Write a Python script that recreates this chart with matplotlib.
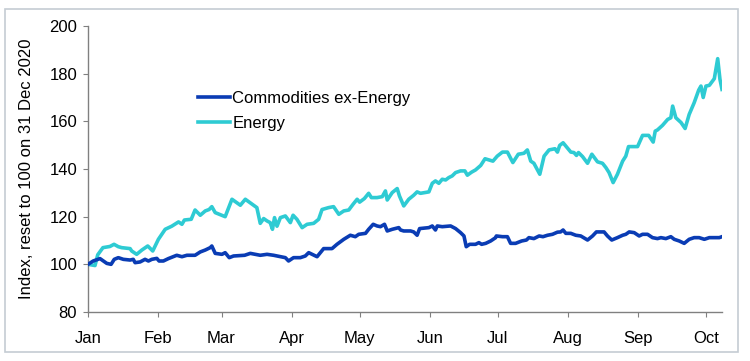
import matplotlib
matplotlib.use("Agg")
import matplotlib.pyplot as plt
import matplotlib.dates as mdates
from matplotlib.patches import Rectangle
import pandas as pd

plt.rcParams['font.family'] = ['Liberation Sans', 'DejaVu Sans']

start_date = "2021-01-01"
end_day = 280.1

# Energy: (days since 1 Jan 2021, index)
energy_days = [0, 3.1, 4.3, 6.6, 9.7, 11.5, 13.4, 14.9, 18.6, 19.3, 21.5, 23.8, 26.4, 28.6,
               31.1, 34.1, 37.0, 40.0, 41.5, 42.6, 45.6, 47.3, 49.6, 51.8, 53.5, 54.7, 56.2,
               60.6, 63.6, 67.3, 69.5, 73.1, 74.6, 76.1, 77.6, 79.1, 80.5, 81.5, 82.4, 83.5,
               85.0, 87.2, 89.4, 90.6, 92.3, 94.6, 96.8, 99.7, 101.9, 103.4, 106.3, 108.5,
               110.8, 113.0, 115.2, 117.1, 118.9, 120.0, 122.1, 124.0, 125.2, 127.7, 130.0,
               131.4, 132.2, 134.4, 136.6, 137.6, 139.5, 141.7, 143.9, 145.4, 146.9, 150.6,
               152.1, 153.5, 155.0, 156.5, 158.0, 159.4, 160.9, 162.4, 164.6, 166.5, 167.6,
               169.5, 171.2, 173.5, 175.4, 177.1, 178.9, 180.8, 183.1, 185.3, 187.7, 190.1,
               192.6, 194.1, 195.6, 197.0, 199.6, 201.5, 203.7, 206.3, 207.4, 208.4, 209.9,
               213.3, 214.7, 215.8, 216.7, 218.5, 220.7, 222.6, 225.1, 227.3, 228.8, 230.2,
               232.0, 233.9, 236.2, 237.6, 238.8, 242.8, 245.0, 247.7, 249.7, 250.6, 251.6,
               253.8, 256.1, 257.5, 258.3, 259.7, 262.0, 263.8, 265.6, 267.8, 269.8, 270.8,
               271.8, 273.0, 274.5, 276.7, 278.2, 279.2, 280.1]
energy_vals = [100, 99.5, 104, 107, 107.5, 108.4, 107.4, 107, 106.6, 105.6, 104.2, 106, 107.7, 105.6,
               110.5, 114.7, 116, 117.8, 116.8, 118.6, 118.9, 122.8, 120.6, 122.4, 123, 124.2, 121.7,
               120, 127.3, 124.8, 127.3, 124.8, 123.8, 117.2, 119.2, 118.2, 117.5, 114.7, 119.6, 116,
               119.6, 120.3, 117.5, 120.6, 118.9, 115.4, 116.8, 117.2, 118.9, 123, 123.8, 124.2,
               121, 122.4, 122.8, 125.2, 127.3, 126.1, 127.6, 129.8, 128, 128, 128.4,
               130.8, 127, 130.1, 131.8, 128.7, 124.5, 127.3, 129, 130.4, 129.8, 130.4,
               134, 135, 134, 135.7, 135.4, 136.4, 137.1, 138.5, 139.2, 139.2, 137.4,
               138.7, 139.6, 141.5, 144.3, 143.8, 143.3, 145.4, 147.1, 147.1, 142.7, 146.2,
               146.6, 148, 143.3, 142.4, 137.8, 145.4, 148, 148.5, 147.1, 149.9, 151,
               147.1, 146.9, 145.7, 146.9, 145.2, 142.4, 146.2, 143, 142.4, 140.6, 138.5,
               134.3, 137.8, 143.3, 145.4, 149.4, 149.4, 154.1, 154.1, 151.3, 155.9, 156.4,
               158.3, 160.8, 161.5, 166.4, 161.5, 159.5, 157, 162.9, 167.8, 173.1, 174.8,
               170, 174.8, 175.1, 177.9, 186.3, 177.6, 173.4]

# Commodities ex-Energy
comm_days = [0, 2.3, 5.3, 6.8, 8.3, 10.2, 11.6, 13.4, 15.6, 18.6, 20.0, 20.8, 23.0, 25.2, 26.7,
             28.2, 30.4, 31.4, 33.3, 35.5, 39.2, 41.5, 43.7, 47.3, 49.6, 51.8, 54.0, 54.7, 56.2,
             59.2, 60.6, 62.4, 64.3, 69.2, 71.7, 76.1, 79.1, 82.0, 85.0, 87.2, 88.6, 90.8, 93.8,
             96.0, 97.5, 99.0, 101.2, 104.1, 107.8, 110.0, 113.0, 115.9, 118.1, 119.6, 122.6,
             124.0, 126.0, 127.7, 129.2, 131.0, 132.2, 134.4, 137.3, 138.1, 139.5, 142.5, 143.9,
             145.4, 146.5, 150.6, 152.1, 153.5, 154.3, 156.5, 160.2, 162.4, 164.6, 166.1, 167.1,
             168.6, 171.2, 172.7, 173.9, 175.7, 177.9, 180.1, 180.4, 183.1, 185.3, 186.7, 188.9,
             191.6, 193.7, 194.8, 197.0, 199.3, 201.0, 203.0, 205.2, 207.4, 208.8, 209.9, 211.1,
             213.3, 215.5, 217.7, 220.7, 222.9, 224.6, 228.0, 229.5, 231.4, 233.9, 236.2, 237.6,
             239.1, 241.3, 243.5, 245.0, 247.2, 249.4, 251.6, 253.1, 255.3, 257.5, 259.0, 261.2,
             263.4, 265.6, 267.8, 270.0, 272.3, 274.5, 276.7, 278.9, 280.1]
comm_vals = [100, 101.4, 102.4, 101.4, 100.4, 100, 102.1, 102.8, 102.1, 101.8, 102.1, 100.7, 101, 102.1, 101.4,
             102.1, 102.5, 101.4, 101.4, 102.4, 103.8, 103.2, 103.8, 103.8, 105.2, 106, 107, 107.7, 104.6,
             104.2, 104.9, 102.8, 103.5, 103.8, 104.6, 103.8, 104.2, 103.8, 103.2, 102.8, 101.4, 102.8, 102.8,
             103.5, 104.9, 104.2, 103.2, 106.6, 106.6, 108.4, 110.5, 112.2, 111.6, 112.6, 113,
             114.7, 116.8, 116.1, 115.8, 116.8, 114, 114.7, 115.4, 114.4, 114, 114, 113.6,
             112.2, 115, 115.4, 116.1, 114.4, 116.1, 115.8, 116.1, 115, 113.3, 111.9, 107.4,
             108.4, 108.4, 109.1, 108.4, 108.8, 109.8, 111.2, 111.9, 111.6, 111.6, 108.8, 108.8,
             109.8, 110.2, 111.2, 110.8, 111.9, 111.6, 112.2, 112.6, 113.5, 113.6, 114.4, 113,
             113, 112.2, 111.9, 110.2, 111.9, 113.6, 113.6, 111.9, 110.2, 111.2, 112.2, 112.6,
             113.6, 113.3, 111.9, 112.6, 112.6, 111.2, 110.8, 111.2, 110.8, 111.6, 110.5, 109.8,
             108.8, 110.5, 111.2, 111.2, 110.5, 111.2, 111.2, 111.2, 111.6]

series_labels = ["Commodities ex-Energy", "Energy"]
ylabel = "Index, reset to 100 on 31 Dec 2020"
yticks = [80, 100, 120, 140, 160, 180, 200]

t0 = pd.Timestamp(start_date)
to_dates = lambda d: t0 + pd.to_timedelta(d, unit="D")

FS = 12
W, H = 750, 361
fig = plt.figure(figsize=(W / 100, H / 100), dpi=100)
ax = fig.add_axes([88 / W, 1 - 312 / H, (722 - 88) / W, (312 - 26) / H])

c_comm = "#0a3cb4"
c_en = "#2ecbd3"
ax.plot(to_dates(comm_days), comm_vals, color=c_comm, lw=2.6, label=series_labels[0], zorder=3)
ax.plot(to_dates(energy_days), energy_vals, color=c_en, lw=2.6, label=series_labels[1], zorder=2)

ax.set_xlim(t0, to_dates(end_day))
ax.set_ylim(80, 200)
ax.set_yticks(yticks)
ax.xaxis.set_major_locator(mdates.MonthLocator())
ax.xaxis.set_major_formatter(mdates.DateFormatter("%b"))

for s in ["top", "right"]:
    ax.spines[s].set_visible(False)
for s in ["left", "bottom"]:
    ax.spines[s].set_color("#808080")
    ax.spines[s].set_linewidth(1.0)
ax.tick_params(axis="both", direction="out", length=3.8, color="#808080", labelsize=FS,
               labelcolor="black")
ax.tick_params(axis="x", pad=10)
ax.tick_params(axis="y", pad=4)

fig.text(27 / W, 1 - 169 / H, ylabel, rotation=90, ha="center", va="center", fontsize=FS)

ax.legend(loc="upper left", bbox_to_anchor=(198 / W, 1 - 91 / H), bbox_transform=fig.transFigure,
          frameon=False, fontsize=FS, handlelength=1.9, handletextpad=0.17,
          labelspacing=0.62, borderpad=0, borderaxespad=0)

fig.patches.append(Rectangle((5 / W, 1 - 352 / H), 733 / W, 343 / H, transform=fig.transFigure,
                             fill=False, edgecolor="#c5ccd3", lw=1.2))

fig.savefig("out.png", dpi=100)
